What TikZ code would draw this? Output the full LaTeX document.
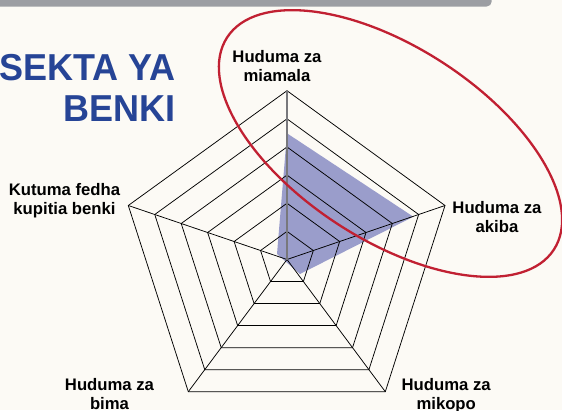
\documentclass[tikz,border=0pt]{standalone}
\usepackage{fontspec}
\setmainfont{Liberation Sans}
\newfontfamily\titlefont[FakeStretch=0.96]{Liberation Sans}
\usetikzlibrary{calc}
\definecolor{bgcream}{RGB}{252,250,245}
\definecolor{bargrey}{RGB}{156,158,163}
\definecolor{titleblue}{RGB}{38,68,150}
\definecolor{datablue}{RGB}{154,157,203}
\definecolor{ringred}{RGB}{193,32,50}
\definecolor{spokegrey}{RGB}{120,120,124}
\tikzset{
  axislabel/.style={font=\fontsize{16.7}{19.4}\selectfont\bfseries, align=center, anchor=base, inner sep=0pt, text=black},
  gridline/.style={draw=black, line width=0.75pt, line join=miter},
  spoke/.style={draw=black, line width=0.75pt},
}
\begin{document}
\begin{tikzpicture}[x=1pt,y=-1pt]
\useasboundingbox (0,0) rectangle (562,410);
\fill[bgcream] (0,0) rectangle (562,410);
% top bar
\fill[bargrey, rounded corners=5pt] (-10,-10) rectangle (491.7,6.5);
% title
\node[font=\titlefont\fontsize{37.5}{41.7}\selectfont\bfseries, text=titleblue, align=right, anchor=base east, inner sep=0pt] (title) at (175.5,121.7) {SEKTA YA\\BENKI};
% pentagon geometry
\coordinate (C) at (287,259.5);
\coordinate (V1) at (287,90.7);
\coordinate (V2) at (445,205.5);
\coordinate (V3) at (385.3,391.7);
\coordinate (V4) at (188.3,391.7);
\coordinate (V5) at (128.3,205.5);
% data polygon
\fill[datablue] (287,133.3) -- (413.3,216.7) -- (300,274) -- (277,254) -- cycle;
% rings
\foreach \k in {1,...,6}{
  \draw[gridline] ($(C)!\k/6!(V1)$) -- ($(C)!\k/6!(V2)$) -- ($(C)!\k/6!(V3)$) -- ($(C)!\k/6!(V4)$) -- ($(C)!\k/6!(V5)$) -- cycle;
}
% spokes
\draw[spoke] (C) -- (V2);
\draw[spoke] (C) -- (V3);
\draw[spoke] (C) -- (V4);
\draw[spoke] (C) -- (V5);
\draw[draw=spokegrey, line width=1.5pt] (C) -- (V1);
% red ellipse
\draw[ringred, line width=2.3pt, rotate around={-33:(390.5,143.5)}] (390.5,143.5) ellipse [x radius=194.8pt, y radius=96.3pt];
% labels
\node[axislabel] (lmiamala) at (277,81.7) {Huduma za\\miamala};
\node[axislabel] (lakiba) at (497,232.7) {Huduma za\\akiba};
\node[axislabel] (lmikopo) at (446.2,409.4) {Huduma za\\mikopo};
\node[axislabel] (lbima) at (109.5,409.4) {Huduma za\\bima};
\node[axislabel] (lkutuma) at (64.5,214.4) {Kutuma fedha\\kupitia benki};
\end{tikzpicture}
\end{document}
